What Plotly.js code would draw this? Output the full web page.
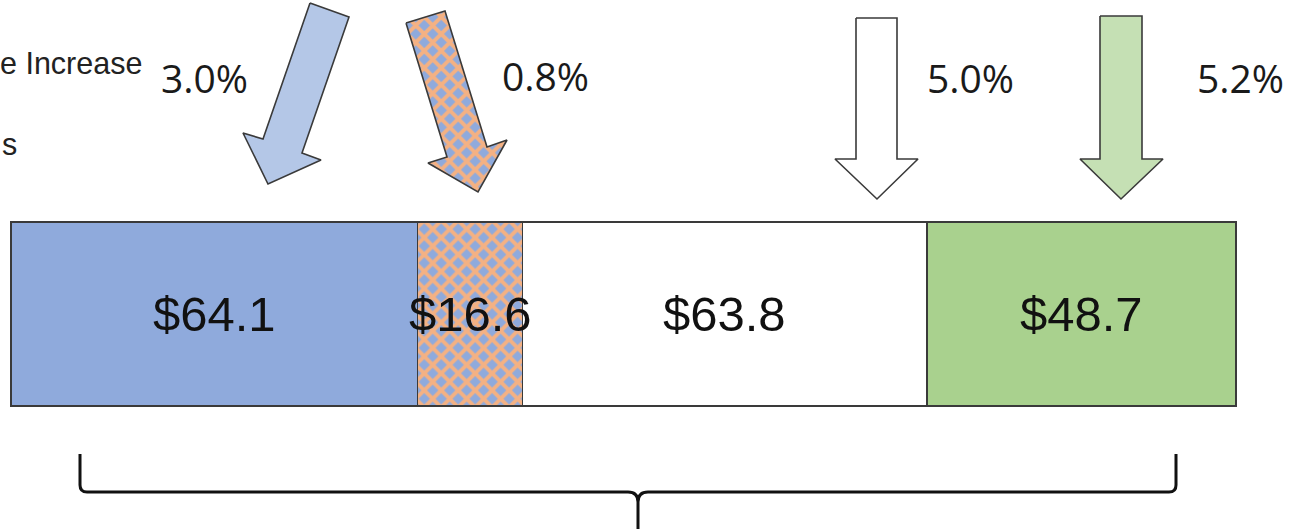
<!DOCTYPE html>
<html>
<head>
<meta charset="utf-8">
<script src="https://cdn.plot.ly/plotly-3.0.1.min.js"></script>
<style>html,body{margin:0;padding:0;background:#fff;}#chart{width:1291px;height:529px;}</style>
</head>
<body>
<div id="chart"></div>
<script>
// ---- data ----
const segments = ["Segment A", "Segment B", "Segment C", "Segment D"];
const values = [64.1, 16.6, 63.8, 48.7];
const pctIncrease = [3.0, 0.8, 5.0, 5.2];
const legendFragments = ["e Increase", "s"];

// ---- styles ----
const fills = ["#8FAADC", "#F4B183", "#FFFFFF", "#A9D18E"];
const arrowFills = ["#B4C7E7", "#F4B183", "#FFFFFF", "#C5E0B4"];
const outline = "#3a3a3a";
const W = 1291, H = 529;
const total = values.reduce((a, b) => a + b, 0);
const barLeftPx = 11, barRightPx = 1236, barTopPx = 222, barBotPx = 406;
const pxPerUnit = (barRightPx - barLeftPx) / total;
const xRange = [-barLeftPx / pxPerUnit, total + (W - barRightPx) / pxPerUnit];
const pxPerY = barBotPx - barTopPx;
const yRange = [-0.5 - (H - barBotPx) / pxPerY, 0.5 + barTopPx / pxPerY];

const pattern = {shape: "x", fgcolor: "#F4B183", bgcolor: "#8FAADC", size: 12, solidity: 0.55, fillmode: "replace"};

const traces = segments.map((s, i) => ({
  type: "bar", orientation: "h", name: s,
  x: [values[i]], y: [0], width: 1,
  marker: Object.assign({color: fills[i], line: {color: outline, width: 1.5}},
          i === 1 ? {pattern: pattern} : {}),
  hoverinfo: "skip"
}));

// arrow outlines (pixel space on overlay axes)
const arrowPaths = [
  [[310,3],[349,17],[302,153],[321,160],[268,184],[243,133],[263,139]],
  [[406,23],[445,11],[487,147],[507,140],[478,192],[428,163],[447,157]],
  [[856,18],[897,18],[897,159],[918,159],[877,199],[835,159],[856,159]],
  [[1100,16],[1142,16],[1142,159],[1163,159],[1121,199],[1080,159],[1100,159]]
];
arrowPaths.forEach((pts, i) => {
  const xs = pts.map(p => p[0]); const ys = pts.map(p => p[1]);
  xs.push(pts[0][0]); ys.push(pts[0][1]);
  const t = {
    type: "scatter", mode: "lines", x: xs, y: ys, xaxis: "x2", yaxis: "y2",
    fill: "toself", fillcolor: arrowFills[i],
    line: {color: outline, width: 1.6}, hoverinfo: "skip"
  };
  if (i === 1) t.fillpattern = pattern;
  traces.push(t);
});

// value labels centred on each stacked segment (data coordinates)
const annotations = [];
let cum = 0;
values.forEach(v => {
  annotations.push({
    xref: "x", yref: "y", x: cum + v / 2, y: 0, xanchor: "center", yanchor: "middle",
    showarrow: false, text: "$" + v.toFixed(1),
    font: {family: "Liberation Sans, Arial, sans-serif", size: 49, color: "#111"}
  });
  cum += v;
});

const pctPos = [[204, 77], [545, 75], [970, 78], [1240, 78]];
pctIncrease.forEach((p, i) => annotations.push({
  xref: "paper", yref: "paper", x: pctPos[i][0] / W, y: 1 - pctPos[i][1] / H,
  xanchor: "center", yanchor: "middle", showarrow: false,
  text: p.toFixed(1) + "%",
  font: {family: "Open Sans, sans-serif", size: 39, color: "#1a1a1a"}
}));
annotations.push({
  xref: "paper", yref: "paper", x: 143 / W, y: 1 - 63 / H, xanchor: "right", yanchor: "middle",
  showarrow: false, text: legendFragments[0], borderpad: 0,
  font: {family: "Liberation Sans, Arial, sans-serif", size: 30.5, color: "#222"}
});
annotations.push({
  xref: "paper", yref: "paper", x: 1 / W, y: 1 - 144 / H, xanchor: "left", yanchor: "middle",
  showarrow: false, text: legendFragments[1], borderpad: 0,
  font: {family: "Liberation Sans, Arial, sans-serif", size: 30.5, color: "#222"}
});

const shapes = [{
  type: "path", xref: "x2", yref: "y2",
  path: "M80,454 L80,485 Q80,492 87,492 L628,492 Q638,492 638,502 L638,532 M638,502 Q638,492 648,492 L1169,492 Q1176,492 1176,485 L1176,454",
  line: {color: "#111", width: 3}
}];

const layout = {
  width: W, height: H, margin: {l: 0, r: 0, t: 0, b: 0},
  paper_bgcolor: "#fff", plot_bgcolor: "#fff", showlegend: false,
  barmode: "stack", bargap: 0,
  xaxis: {range: xRange, visible: false, fixedrange: true},
  yaxis: {range: yRange, visible: false, fixedrange: true},
  xaxis2: {range: [0, W], overlaying: "x", visible: false, fixedrange: true},
  yaxis2: {range: [H, 0], overlaying: "y", visible: false, fixedrange: true},
  annotations: annotations, shapes: shapes
};

Plotly.newPlot("chart", traces, layout, {displayModeBar: false, staticPlot: true});
</script>
</body>
</html>
